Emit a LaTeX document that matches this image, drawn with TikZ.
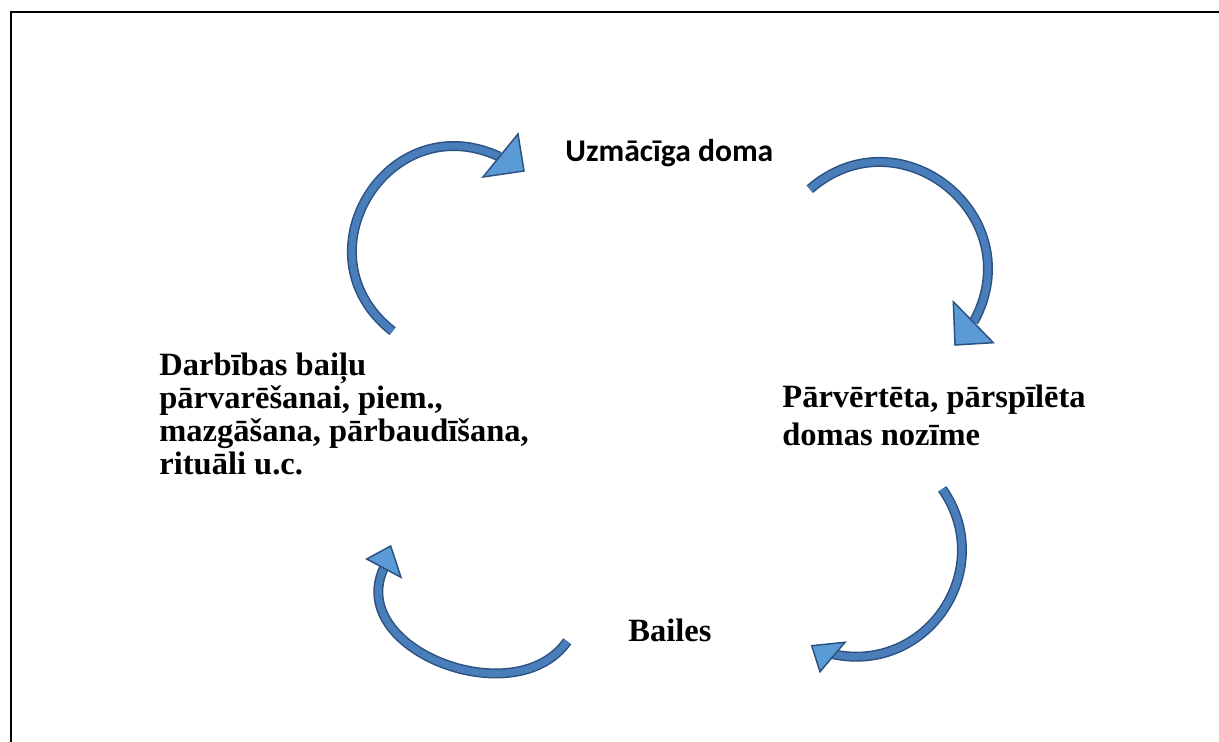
\documentclass[tikz,border=0pt]{standalone}
\usepackage{fontspec}
\setmainfont{Liberation Serif}
\newfontfamily\calibrilike{Carlito}
\definecolor{arrowblue}{RGB}{74,126,187}
\definecolor{headblue}{RGB}{91,155,213}
\definecolor{edgeblue}{RGB}{44,82,130}

\begin{document}
\begin{tikzpicture}[x=0.5pt, y=0.5pt,
    cycletext/.style={font=\bfseries\fontsize{16.25pt}{16.5pt}\selectfont, inner sep=0pt, anchor=base west, align=left},
    shaftline/.style={draw=edgeblue, line width=0.75pt, double=arrowblue, double distance=3.5pt},
    headfill/.style={draw=edgeblue, line width=0.75pt, fill=headblue, line join=miter}]
    \useasboundingbox (0,0) rectangle (1219,742);
    \draw[line width=1pt] (10.5,0) -- (10.5,730) -- (1219,730);

    % multi-line nodes sit on the baseline of their last line
    \node (thought) [cycletext, font=\calibrilike\bfseries\fontsize{15.8pt}{18pt}\selectfont] at (565,580.3) {Uzmācīga doma};
    \node (meaning) [cycletext, font=\bfseries\fontsize{16.25pt}{19pt}\selectfont] at (782,296) {Pārvērtēta, pārspīlēta\\domas nozīme};
    \node (fear) [cycletext] at (628,100.5) {Bailes};
    \node (actions) [cycletext] at (159,267) {Darbības baiļu\\pārvarēšanai, piem.,\\mazgāšana, pārbaudīšana,\\rituāli u.c.};

    % curved arrows round the cycle
    \coordinate (t1) at (392.6,410.8);
    \coordinate (h1) at (499.5,585.3);
    \draw[shaftline] (t1) .. controls +(142:123) and +(155:123) .. (h1);
    \draw[headfill] (518,608) -- (524,571) -- (483,565) -- cycle;

    \coordinate (t2) at (809.8,552.8);
    \coordinate (h2) at (973.6,420.1);
    \draw[shaftline] (t2) .. controls +(41:120) and +(61:120) .. (h2);
    \draw[headfill] (953.3,440.3) -- (955,397) -- (993.3,399.3) -- cycle;

    \coordinate (t3) at (942.2,253.1);
    \coordinate (h3) at (832.9,87.8);
    \draw[shaftline] (t3) .. controls +(-55:97) and +(-12:97) .. (h3);
    \draw[headfill] (845,99.7) -- (811.7,96.3) -- (820,70.3) -- cycle;

    \coordinate (t4) at (567.2,100.7);
    \coordinate (h4) at (383.8,173.8);
    \draw[shaftline] (t4) .. controls +(235:90) and +(245:90) .. (h4);
    \draw[headfill] (366.7,183) -- (390.7,196) -- (401,164.7) -- cycle;
\end{tikzpicture}
\end{document}
